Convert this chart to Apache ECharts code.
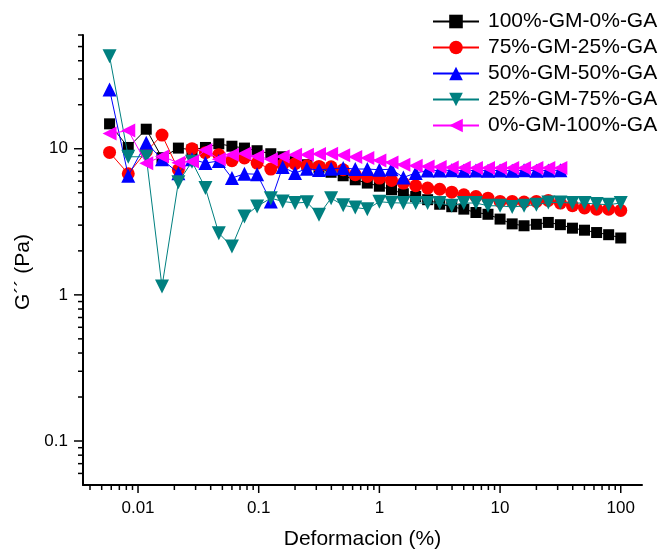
<!DOCTYPE html>
<html>
<head>
<meta charset="utf-8">
<script src="https://cdn.jsdelivr.net/npm/echarts@6/dist/echarts.min.js"></script>
<style>
html,body{margin:0;padding:0;background:#fff;}
#chart{width:660px;height:550px;}
</style>
</head>
<body>
<div id="chart"></div>
<script>
// Strain (%) values
const strain = [0.00581,0.0083,0.0117,0.0158,0.0216,0.028,0.0362,0.0467,0.060,0.0762,0.097,
  0.126,0.158,0.2,0.251,0.316,0.398,0.501,0.631,0.794,1,1.26,1.58,2,2.51,3.16,3.98,5.01,6.31,7.94,
  10,12.6,15.8,20,25.1,31.6,39.8,50.1,63.1,79.4,100];

const seriesNames = ['100%-GM-0%-GA','75%-GM-25%-GA','50%-GM-50%-GA','25%-GM-75%-GA','0%-GM-100%-GA'];

const gm100 = [14.8,10.2,13.6,8.68,10.1,9.84,10.2,10.8,10.4,10.1,9.69,9.24,8.81,8.15,7.77,7.41,6.90,6.53,6.13,5.82,5.54,5.24,4.92,4.71,4.48,4.17,4.01,3.86,3.66,3.56,3.30,3.06,2.97,3.04,3.13,3.02,2.86,2.77,2.67,2.58,2.45];
const gm75 = [9.43,6.74,9.58,12.4,7.18,10.0,9.39,9.10,8.28,8.64,7.98,7.26,7.77,7.89,7.65,7.57,7.53,7.18,6.64,6.46,6.30,6.07,5.82,5.58,5.38,5.28,5.04,4.84,4.71,4.59,4.36,4.36,4.32,4.36,4.43,4.25,4.07,3.93,3.86,3.86,3.78];
const gm50 = [25.4,6.53,11.0,8.47,6.80,8.47,7.98,8.24,6.30,6.74,6.69,4.36,7.49,6.82,7.30,7.15,7.30,7.38,7.26,7.26,7.18,7.24,6.36,6.82,7.10,7.10,7.12,7.07,7.10,7.07,7.10,7.07,7.12,7.07,7.10,7.12];
const gm25 = [42.9,8.81,8.81,1.14,5.90,8.15,5.38,2.64,2.14,3.44,4.03,4.59,4.36,4.25,4.30,3.53,4.59,4.10,3.96,3.86,4.34,4.27,4.25,4.25,4.25,4.25,4.07,4.25,4.25,4.07,4.07,3.99,4.07,4.14,4.29,4.29,4.25,4.25,4.18,4.14,4.25];
const gm0 = [12.7,13.3,7.96,8.86,8.02,8.18,9.80,8.47,9.10,9.29,8.86,8.47,8.86,9.10,9.10,9.20,9.24,9.03,8.77,8.64,8.31,8.06,7.77,7.65,7.57,7.49,7.43,7.41,7.38,7.38,7.38,7.38,7.38,7.38,7.38,7.38];

// axis ranges and tick labels
const xMin = 0.0035, xMax = 150;
const yMin = 0.05, yMax = 60;
const xMajorTicks = [0.01,0.1,1,10,100];
const yMajorTicks = [0.1,1,10];

function minorTicks(lo, hi){
  const out = [];
  for (let e = -4; e <= 3; e++) {
    for (let m = 2; m <= 9; m++) {
      const v = +(m * Math.pow(10, e)).toPrecision(6);
      if (v > lo * 1.0001 && v <= hi * 1.0001) out.push(v);
    }
  }
  return out;
}
const xMinorTicks = minorTicks(xMin, xMax);
const yMinorTicks = minorTicks(yMin, yMax);

const FONT = '"Liberation Sans", Arial, sans-serif';
const colors = ['#000000','#ff0000','#0000ff','#008080','#ff00ff'];
const symbols = ['rect','circle','triangle','triangle','triangle'];
const rotations = [0,0,0,180,90];
const sizes = [11,13,14,14,14];
const values = [gm100, gm75, gm50, gm25, gm0];

const lineSeries = values.map((vals, k) => ({
  name: seriesNames[k],
  type: 'line',
  data: vals.map((v, i) => [strain[i], v]),
  symbol: symbols[k],
  symbolRotate: rotations[k],
  symbolSize: sizes[k],
  showAllSymbol: true,
  color: colors[k],
  lineStyle: {color: colors[k], width: 1},
  itemStyle: {color: colors[k]},
  z: 3 + k
}));

const tickData = [];
xMajorTicks.forEach(v => tickData.push([v, yMin, 8, 0]));
xMinorTicks.forEach(v => tickData.push([v, yMin, 5, 0]));
const yTickData = [];
yMajorTicks.forEach(v => yTickData.push([xMin, v, 9, 1]));
yMinorTicks.forEach(v => yTickData.push([xMin, v, 5, 1]));

function tickRender(params, api){
  const p = api.coord([api.value(0), api.value(1)]);
  const len = api.value(2);
  const vertical = api.value(3) === 0;
  return {
    type: 'line',
    shape: vertical ? {x1: p[0], y1: p[1], x2: p[0], y2: p[1] + len}
                    : {x1: p[0], y1: p[1], x2: p[0] - len, y2: p[1]},
    style: {stroke: '#000', lineWidth: 1.5}
  };
}

const fmt = v => String(parseFloat(Number(v).toPrecision(6)));

const chart = echarts.init(document.getElementById('chart'), null, {renderer: 'canvas'});
chart.setOption({
  animation: false,
  backgroundColor: '#fff',
  grid: {left: 83, right: 18, top: 35, bottom: 65, containLabel: false, outerBoundsMode: 'none'},
  legend: {
    data: seriesNames,
    orient: 'vertical',
    left: 432, top: 11, padding: 0,
    itemWidth: 46, itemHeight: 17, itemGap: 5,
    textStyle: {fontSize: 21, color: '#000', fontFamily: FONT, padding: [0,0,0,4]}
  },
  xAxis: {
    type: 'log', logBase: 10, min: xMin, max: xMax,
    name: 'Deformacion (%)', nameLocation: 'middle', nameGap: 44,
    nameTextStyle: {fontSize: 21, color: '#000', fontFamily: FONT},
    axisLine: {show: true, lineStyle: {color: '#000', width: 2}},
    axisTick: {show: false},
    splitLine: {show: false},
    minorTick: {show: false},
    axisLabel: {show: true, showMinLabel: false, showMaxLabel: false, margin: 15,
      fontSize: 17, color: '#000', fontFamily: FONT, formatter: fmt}
  },
  yAxis: {
    type: 'log', logBase: 10, min: yMin, max: yMax,
    name: 'G´´ (Pa)', nameLocation: 'middle', nameGap: 45,
    nameTextStyle: {fontSize: 21, color: '#000', fontFamily: FONT, padding: [0, 24, 0, 0]},
    axisLine: {show: true, lineStyle: {color: '#000', width: 2}},
    axisTick: {show: false},
    splitLine: {show: false},
    minorTick: {show: false},
    axisLabel: {show: true, showMinLabel: false, showMaxLabel: false, margin: 15,
      fontSize: 17, color: '#000', fontFamily: FONT, formatter: fmt}
  },
  series: lineSeries.concat([
    {type: 'custom', name: 'xticks', data: tickData, renderItem: tickRender, clip: false, silent: true, z: 1,
     encode: {x: 0, y: 1}},
    {type: 'custom', name: 'yticks', data: yTickData, renderItem: tickRender, clip: false, silent: true, z: 1,
     encode: {x: 0, y: 1}}
  ])
});
</script>
</body>
</html>
